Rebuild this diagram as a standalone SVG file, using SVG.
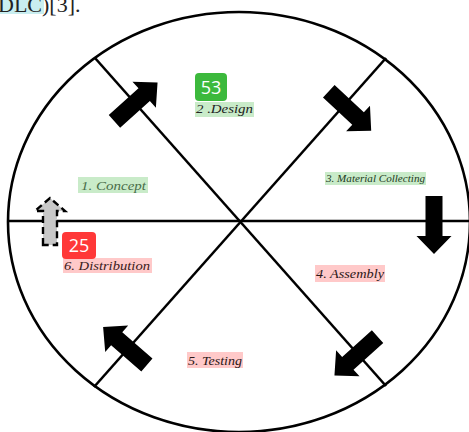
<svg xmlns="http://www.w3.org/2000/svg" width="469" height="432" viewBox="0 0 469 432">
<style>
.ln{stroke:#000;stroke-width:2.6;fill:none}
.lbl{font-family:"Liberation Serif",serif;font-style:italic}
.g{fill:#c9ebc9}
.p{fill:#ffc9c9}
.badge{font-family:"Open Sans","Liberation Sans",sans-serif;font-size:18px;fill:#fff;text-anchor:middle}
</style>
<defs>
<path id="arr" d="M-29,-8.5 H11 V-17.5 L29,0 L11,17.5 V8.5 H-29 Z"/>
</defs>
<rect x="0" y="0" width="44" height="14" fill="#c9eef0"/>
<text x="-2" y="12" font-family="Liberation Serif,serif" font-size="22" fill="#222">DLC)[3].</text>
<g id="connectors">
<ellipse class="ln" cx="239" cy="222" rx="231" ry="210"/>
<line class="ln" x1="8" y1="221" x2="469" y2="221"/>
<line class="ln" x1="95" y1="58" x2="386" y2="386"/>
<line class="ln" x1="386" y1="58" x2="94" y2="387"/>
</g>
<g id="arrows">
<use href="#arr" transform="translate(136,102) rotate(-42)"/>
<use href="#arr" transform="translate(350,111) rotate(43)"/>
<use href="#arr" transform="translate(434,225) rotate(90)"/>
<use href="#arr" transform="translate(356,356) rotate(138)"/>
<use href="#arr" transform="translate(125,346) rotate(221)"/>
<path d="M43,245 V211 H35 L50,198 L65,211 H57 V245 Z" fill="#c8c8c8" stroke="#000" stroke-width="2.4" stroke-dasharray="7,4"/>
</g>
<g id="n1"><rect class="g" x="78" y="177" width="70" height="16"/><text class="lbl" x="81" y="190" font-size="12.5" fill="#4a6e4a" textLength="65" lengthAdjust="spacingAndGlyphs">1. Concept</text></g>
<g id="n2"><rect class="g" x="195" y="102" width="59" height="15"/><text class="lbl" x="196" y="113" font-size="12.5" fill="#222" textLength="57" lengthAdjust="spacingAndGlyphs">2 .Design</text></g>
<g id="n3"><rect class="g" x="325" y="172" width="101" height="13"/><text class="lbl" x="326" y="182" font-size="10" fill="#223a22" textLength="99" lengthAdjust="spacingAndGlyphs">3. Material Collecting</text></g>
<g id="n4"><rect class="p" x="315" y="265" width="70" height="17"/><text class="lbl" x="316" y="278" font-size="12.5" fill="#2a1616" textLength="68" lengthAdjust="spacingAndGlyphs">4. Assembly</text></g>
<g id="n5"><rect class="p" x="187" y="352" width="56" height="16"/><text class="lbl" x="188" y="365" font-size="12.5" fill="#2a1616" textLength="54" lengthAdjust="spacingAndGlyphs">5. Testing</text></g>
<g id="n6"><rect class="p" x="63" y="258" width="89" height="15"/><text class="lbl" x="64" y="270" font-size="12.5" fill="#3a2020" textLength="86" lengthAdjust="spacingAndGlyphs">6. Distribution</text></g>
<g id="badge53"><rect x="195" y="73" width="32" height="28" rx="4" fill="#3cb93c"/><text class="badge" x="211" y="94">53</text></g>
<g id="badge25"><rect x="62" y="232" width="34" height="27" rx="4" fill="#ff3838"/><text class="badge" x="79" y="252">25</text></g>
</svg>
